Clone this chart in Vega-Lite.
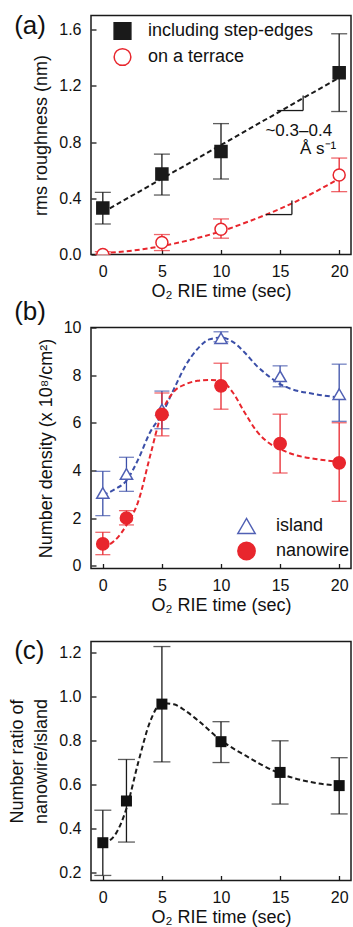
{
  "$schema": "https://vega.github.io/schema/vega-lite/v6.json",
  "padding": {"left": 8, "top": 12.5, "right": 0, "bottom": 0},
  "spacing": 73,
  "bounds": "flush",
  "config": {
    "font": "Liberation Sans",
    "view": {"stroke": "#1a1a1a", "strokeWidth": 1.5},
    "axis": {"grid": false, "domain": false, "tickSize": -5, "tickColor": "#1a1a1a", "tickWidth": 1.3, "labelFontSize": 16, "labelColor": "#111111", "titleFontSize": 18, "titleFontWeight": "normal", "titleColor": "#111111", "labelFont": "Liberation Sans", "titleFont": "Liberation Sans"},
    "axisX": {"labelPadding": 14, "titlePadding": 3},
    "axisY": {"labelPadding": 15, "titlePadding": 8},
    "text": {"font": "Liberation Sans"}
  },
  "resolve": {
    "scale": {"x": "independent", "y": "independent", "shape": "independent", "fill": "independent", "stroke": "independent"},
    "legend": {"shape": "independent", "fill": "independent", "stroke": "independent"}
  },
  "datasets": {
    "a_pts": [
      {"series": "including step-edges", "t": 0, "v": 0.33, "lo": 0.217, "hi": 0.442},
      {"series": "including step-edges", "t": 5, "v": 0.572, "lo": 0.423, "hi": 0.714},
      {"series": "including step-edges", "t": 10, "v": 0.733, "lo": 0.537, "hi": 0.931},
      {"series": "including step-edges", "t": 20, "v": 1.293, "lo": 1.017, "hi": 1.57},
      {"series": "on a terrace", "t": 0, "v": 0.0, "lo": 0.0, "hi": 0.02},
      {"series": "on a terrace", "t": 5, "v": 0.085, "lo": 0.028, "hi": 0.142},
      {"series": "on a terrace", "t": 10, "v": 0.18, "lo": 0.116, "hi": 0.253},
      {"series": "on a terrace", "t": 20, "v": 0.565, "lo": 0.447, "hi": 0.686}
    ],
    "a_fit1": [{"t": 0, "v": 0.3}, {"t": 20, "v": 1.258}],
    "a_fit2": [
      {"t": 0, "v": 0.01}, {"t": 2.5, "v": 0.028}, {"t": 5, "v": 0.06}, {"t": 7.5, "v": 0.106},
      {"t": 10, "v": 0.165}, {"t": 12.5, "v": 0.24}, {"t": 15, "v": 0.325}, {"t": 17.5, "v": 0.425}, {"t": 20, "v": 0.54}
    ],
    "a_slopes": [
      {"t": 14.75, "t2": 16.95, "v": 1.024, "v2": 1.024},
      {"t": 16.95, "t2": 16.95, "v": 1.024, "v2": 1.131},
      {"t": 13.8, "t2": 16.0, "v": 0.284, "v2": 0.284},
      {"t": 16.0, "t2": 16.0, "v": 0.284, "v2": 0.384}
    ],
    "a_notes": [
      {"t": 19.4, "v": 0.88, "label": "~0.3–0.4"},
      {"t": 19.75, "v": 0.75, "label": "Å s⁻¹"}
    ],
    "a_tag": [{"t": -7.5, "v": 1.566, "label": "(a)"}],
    "b_tag": [{"t": -7.5, "v": 10.33, "label": "(b)"}],
    "c_tag": [{"t": -7.5, "v": 1.172, "label": "(c)"}],
    "b_pts": [
      {"series": "island", "t": 0, "v": 3.05, "lo": 2.1, "hi": 3.96},
      {"series": "island", "t": 2, "v": 3.85, "lo": 3.12, "hi": 4.55},
      {"series": "island", "t": 5, "v": 6.55, "lo": 5.75, "hi": 7.33},
      {"series": "island", "t": 10, "v": 9.55, "lo": 9.4, "hi": 9.82},
      {"series": "island", "t": 15, "v": 7.95, "lo": 7.51, "hi": 8.39},
      {"series": "island", "t": 20, "v": 7.2, "lo": 6.06, "hi": 8.46},
      {"series": "nanowire", "t": 0, "v": 0.91, "lo": 0.46, "hi": 1.4},
      {"series": "nanowire", "t": 2, "v": 2.0, "lo": 1.71, "hi": 2.31},
      {"series": "nanowire", "t": 5, "v": 6.35, "lo": 5.45, "hi": 7.25},
      {"series": "nanowire", "t": 10, "v": 7.55, "lo": 6.57, "hi": 8.5},
      {"series": "nanowire", "t": 15, "v": 5.12, "lo": 3.89, "hi": 6.36},
      {"series": "nanowire", "t": 20, "v": 4.32, "lo": 2.7, "hi": 6.0}
    ],
    "b_fit_isl": [
      {"t": 0, "v": 2.97}, {"t": 1, "v": 3.2}, {"t": 2, "v": 3.57}, {"t": 3, "v": 4.47}, {"t": 4, "v": 5.6},
      {"t": 5, "v": 6.36}, {"t": 6, "v": 7.4}, {"t": 7, "v": 8.4}, {"t": 8, "v": 9.09}, {"t": 9, "v": 9.5},
      {"t": 10, "v": 9.58}, {"t": 11, "v": 9.4}, {"t": 12, "v": 8.95}, {"t": 13, "v": 8.4}, {"t": 14, "v": 7.97},
      {"t": 15, "v": 7.62}, {"t": 16, "v": 7.41}, {"t": 18, "v": 7.2}, {"t": 20, "v": 7.06}
    ],
    "b_fit_nw": [
      {"t": 0, "v": 0.77}, {"t": 1, "v": 1.05}, {"t": 2, "v": 1.7}, {"t": 3, "v": 2.7}, {"t": 4, "v": 4.6},
      {"t": 5, "v": 6.43}, {"t": 6, "v": 7.3}, {"t": 7, "v": 7.62}, {"t": 8, "v": 7.76}, {"t": 9, "v": 7.8},
      {"t": 10, "v": 7.76}, {"t": 11, "v": 7.27}, {"t": 12, "v": 6.43}, {"t": 13, "v": 5.66}, {"t": 14, "v": 5.17},
      {"t": 15, "v": 4.9}, {"t": 16, "v": 4.69}, {"t": 18, "v": 4.48}, {"t": 20, "v": 4.36}
    ],
    "c_pts": [
      {"t": 0, "v": 0.334, "lo": 0.185, "hi": 0.482},
      {"t": 2, "v": 0.524, "lo": 0.337, "hi": 0.713},
      {"t": 5, "v": 0.965, "lo": 0.702, "hi": 1.227},
      {"t": 10, "v": 0.794, "lo": 0.699, "hi": 0.885},
      {"t": 15, "v": 0.654, "lo": 0.51, "hi": 0.798},
      {"t": 20, "v": 0.594, "lo": 0.465, "hi": 0.721}
    ],
    "c_fit": [
      {"t": 0, "v": 0.33}, {"t": 1, "v": 0.367}, {"t": 2, "v": 0.49}, {"t": 3, "v": 0.7}, {"t": 4, "v": 0.885},
      {"t": 5, "v": 0.969}, {"t": 6, "v": 0.964}, {"t": 7, "v": 0.934}, {"t": 8, "v": 0.893}, {"t": 10, "v": 0.8},
      {"t": 12, "v": 0.733}, {"t": 15, "v": 0.649}, {"t": 17.5, "v": 0.611}, {"t": 20, "v": 0.593}
    ]
  },
  "vconcat": [
    {
      "width": 260, "height": 239,
      "encoding": {"x": {"field": "t", "type": "quantitative", "scale": {"domain": [-1, 21]}, "axis": {"values": [0, 5, 10, 15, 20], "title": "O₂ RIE time (sec)"}}},
      "layer": [
        {"data": {"name": "a_fit1"}, "mark": {"type": "line", "color": "#1a1a1a", "strokeDash": [5, 3], "strokeWidth": 2},
         "encoding": {"y": {"field": "v", "type": "quantitative", "scale": {"domain": [0, 1.7]}, "axis": {"values": [0, 0.4, 0.8, 1.2, 1.6], "format": ".1f", "title": "rms roughness (nm)"}}}},
        {"data": {"name": "a_fit2"}, "mark": {"type": "line", "color": "#e8262d", "strokeDash": [5, 3], "strokeWidth": 2, "interpolate": "monotone"},
         "encoding": {"y": {"field": "v", "type": "quantitative", "scale": {"domain": [0, 1.7]}, "axis": {"values": [0, 0.4, 0.8, 1.2, 1.6], "format": ".1f", "title": "rms roughness (nm)"}}}},
        {"data": {"name": "a_slopes"}, "mark": {"type": "rule", "color": "#1a1a1a", "strokeWidth": 1.3},
         "encoding": {"x2": {"field": "t2"}, "y": {"field": "v", "type": "quantitative", "scale": {"domain": [0, 1.7]}, "axis": {"values": [0, 0.4, 0.8, 1.2, 1.6], "format": ".1f", "title": "rms roughness (nm)"}}, "y2": {"field": "v2"}}},
        {"data": {"name": "a_pts"}, "transform": [{"filter": "datum.series === 'including step-edges'"}],
         "mark": {"type": "errorbar", "ticks": true, "size": 16, "thickness": 1.3, "color": "#1a1a1a"},
         "encoding": {"y": {"field": "lo", "type": "quantitative", "scale": {"domain": [0, 1.7]}, "axis": {"values": [0, 0.4, 0.8, 1.2, 1.6], "format": ".1f", "title": "rms roughness (nm)"}}, "y2": {"field": "hi"}}},
        {"data": {"name": "a_pts"}, "transform": [{"filter": "datum.series === 'on a terrace'"}],
         "mark": {"type": "errorbar", "ticks": true, "size": 16, "thickness": 1.3, "color": "#e8262d"},
         "encoding": {"y": {"field": "lo", "type": "quantitative", "scale": {"domain": [0, 1.7]}, "axis": {"values": [0, 0.4, 0.8, 1.2, 1.6], "format": ".1f", "title": "rms roughness (nm)"}}, "y2": {"field": "hi"}}},
        {"data": {"name": "a_pts"}, "mark": {"type": "point", "opacity": 1, "strokeWidth": 1.5, "size": 144, "clip": true},
         "encoding": {
           "y": {"field": "v", "type": "quantitative", "scale": {"domain": [0, 1.7]}, "axis": {"values": [0, 0.4, 0.8, 1.2, 1.6], "format": ".1f", "title": "rms roughness (nm)"}},
           "shape": {"field": "series", "type": "nominal", "scale": {"domain": ["including step-edges", "on a terrace"], "range": ["square", "circle"]},
                     "legend": {"title": null, "orient": "none", "legendX": 22, "legendY": 6, "symbolSize": 280, "symbolStrokeWidth": 1.5, "labelFontSize": 18, "labelOffset": 16, "labelLimit": 400, "rowPadding": 3, "padding": 0, "labelColor": "#111111", "labelFont": "Liberation Sans"}},
           "fill": {"field": "series", "type": "nominal", "scale": {"domain": ["including step-edges", "on a terrace"], "range": ["#1a1a1a", "#ffffff"]},
                     "legend": {"title": null, "orient": "none", "legendX": 22, "legendY": 6, "symbolSize": 280, "symbolStrokeWidth": 1.5, "labelFontSize": 18, "labelOffset": 16, "labelLimit": 400, "rowPadding": 3, "padding": 0, "labelColor": "#111111", "labelFont": "Liberation Sans"}},
           "stroke": {"field": "series", "type": "nominal", "scale": {"domain": ["including step-edges", "on a terrace"], "range": ["#1a1a1a", "#e8262d"]},
                     "legend": {"title": null, "orient": "none", "legendX": 22, "legendY": 6, "symbolSize": 280, "symbolStrokeWidth": 1.5, "labelFontSize": 18, "labelOffset": 16, "labelLimit": 400, "rowPadding": 3, "padding": 0, "labelColor": "#111111", "labelFont": "Liberation Sans"}}
         }},
        {"data": {"name": "a_notes"}, "mark": {"type": "text", "align": "right", "baseline": "middle", "fontSize": 17, "color": "#111111"},
         "encoding": {"y": {"field": "v", "type": "quantitative", "scale": {"domain": [0, 1.7]}, "axis": {"values": [0, 0.4, 0.8, 1.2, 1.6], "format": ".1f", "title": "rms roughness (nm)"}}, "text": {"field": "label"}}},
        {"data": {"name": "a_tag"}, "mark": {"type": "text", "align": "left", "baseline": "alphabetic", "fontSize": 26, "color": "#111111"},
         "encoding": {"y": {"field": "v", "type": "quantitative", "scale": {"domain": [0, 1.7]}, "axis": {"values": [0, 0.4, 0.8, 1.2, 1.6], "format": ".1f", "title": "rms roughness (nm)"}}, "text": {"field": "label"}}}
      ]
    },
    {
      "width": 260, "height": 241,
      "encoding": {"x": {"field": "t", "type": "quantitative", "scale": {"domain": [-1, 21]}, "axis": {"values": [0, 5, 10, 15, 20], "title": "O₂ RIE time (sec)"}}},
      "layer": [
        {"data": {"name": "b_fit_isl"}, "mark": {"type": "line", "color": "#3b4fa8", "strokeDash": [5, 3], "strokeWidth": 2, "interpolate": "monotone"},
         "encoding": {"y": {"field": "v", "type": "quantitative", "scale": {"domain": [-0.12, 10]}, "axis": {"values": [0, 2, 4, 6, 8, 10], "title": "Number density (x 10⁸/cm²)"}}}},
        {"data": {"name": "b_fit_nw"}, "mark": {"type": "line", "color": "#e8262d", "strokeDash": [5, 3], "strokeWidth": 2, "interpolate": "monotone"},
         "encoding": {"y": {"field": "v", "type": "quantitative", "scale": {"domain": [-0.12, 10]}, "axis": {"values": [0, 2, 4, 6, 8, 10], "title": "Number density (x 10⁸/cm²)"}}}},
        {"data": {"name": "b_pts"}, "transform": [{"filter": "datum.series === 'island'"}],
         "mark": {"type": "errorbar", "ticks": true, "size": 15, "thickness": 1.3, "color": "#3b4fa8"},
         "encoding": {"y": {"field": "lo", "type": "quantitative", "scale": {"domain": [-0.12, 10]}, "axis": {"values": [0, 2, 4, 6, 8, 10], "title": "Number density (x 10⁸/cm²)"}}, "y2": {"field": "hi"}}},
        {"data": {"name": "b_pts"}, "transform": [{"filter": "datum.series === 'nanowire'"}],
         "mark": {"type": "errorbar", "ticks": true, "size": 15, "thickness": 1.3, "color": "#e8262d"},
         "encoding": {"y": {"field": "lo", "type": "quantitative", "scale": {"domain": [-0.12, 10]}, "axis": {"values": [0, 2, 4, 6, 8, 10], "title": "Number density (x 10⁸/cm²)"}}, "y2": {"field": "hi"}}},
        {"data": {"name": "b_pts"}, "mark": {"type": "point", "opacity": 1, "strokeWidth": 1.5, "size": 150},
         "encoding": {
           "y": {"field": "v", "type": "quantitative", "scale": {"domain": [-0.12, 10]}, "axis": {"values": [0, 2, 4, 6, 8, 10], "title": "Number density (x 10⁸/cm²)"}},
           "shape": {"field": "series", "type": "nominal", "scale": {"domain": ["island", "nanowire"], "range": ["triangle-up", "circle"]},
                     "legend": {"title": null, "orient": "none", "legendX": 146, "legendY": 189, "symbolSize": 300, "symbolStrokeWidth": 1.5, "labelFontSize": 18, "labelOffset": 20, "labelLimit": 400, "rowPadding": 2, "padding": 0, "labelColor": "#111111", "labelFont": "Liberation Sans"}},
           "fill": {"field": "series", "type": "nominal", "scale": {"domain": ["island", "nanowire"], "range": ["#ffffff", "#e8262d"]},
                     "legend": {"title": null, "orient": "none", "legendX": 146, "legendY": 189, "symbolSize": 300, "symbolStrokeWidth": 1.5, "labelFontSize": 18, "labelOffset": 20, "labelLimit": 400, "rowPadding": 2, "padding": 0, "labelColor": "#111111", "labelFont": "Liberation Sans"}},
           "stroke": {"field": "series", "type": "nominal", "scale": {"domain": ["island", "nanowire"], "range": ["#5060b4", "#e8262d"]},
                     "legend": {"title": null, "orient": "none", "legendX": 146, "legendY": 189, "symbolSize": 300, "symbolStrokeWidth": 1.5, "labelFontSize": 18, "labelOffset": 20, "labelLimit": 400, "rowPadding": 2, "padding": 0, "labelColor": "#111111", "labelFont": "Liberation Sans"}}
         }},
        {"data": {"name": "b_tag"}, "mark": {"type": "text", "align": "left", "baseline": "alphabetic", "fontSize": 26, "color": "#111111"},
         "encoding": {"y": {"field": "v", "type": "quantitative", "scale": {"domain": [-0.12, 10]}, "axis": {"values": [0, 2, 4, 6, 8, 10], "title": "Number density (x 10⁸/cm²)"}}, "text": {"field": "label"}}}
      ]
    },
    {
      "width": 260, "height": 239,
      "encoding": {"x": {"field": "t", "type": "quantitative", "scale": {"domain": [-1, 21]}, "axis": {"values": [0, 5, 10, 15, 20], "title": "O₂ RIE time (sec)"}}},
      "layer": [
        {"data": {"name": "c_fit"}, "mark": {"type": "line", "color": "#1a1a1a", "strokeDash": [5, 3], "strokeWidth": 2, "interpolate": "monotone"},
         "encoding": {"y": {"field": "v", "type": "quantitative", "scale": {"domain": [0.162, 1.25]}, "axis": {"values": [0.2, 0.4, 0.6, 0.8, 1.0, 1.2], "format": ".1f", "title": ["Number ratio of", "nanowire/island"], "titleLineHeight": 24}}}},
        {"data": {"name": "c_pts"},
         "mark": {"type": "errorbar", "ticks": true, "size": 17, "thickness": 1.3, "color": "#1a1a1a"},
         "encoding": {"y": {"field": "lo", "type": "quantitative", "scale": {"domain": [0.162, 1.25]}, "axis": {"values": [0.2, 0.4, 0.6, 0.8, 1.0, 1.2], "format": ".1f", "title": ["Number ratio of", "nanowire/island"], "titleLineHeight": 24}}, "y2": {"field": "hi"}}},
        {"data": {"name": "c_pts"}, "mark": {"type": "square", "opacity": 1, "size": 121, "color": "#111111"},
         "encoding": {"y": {"field": "v", "type": "quantitative", "scale": {"domain": [0.162, 1.25]}, "axis": {"values": [0.2, 0.4, 0.6, 0.8, 1.0, 1.2], "format": ".1f", "title": ["Number ratio of", "nanowire/island"], "titleLineHeight": 24}}}},
        {"data": {"name": "c_tag"}, "mark": {"type": "text", "align": "left", "baseline": "alphabetic", "fontSize": 26, "color": "#111111"},
         "encoding": {"y": {"field": "v", "type": "quantitative", "scale": {"domain": [0.162, 1.25]}, "axis": {"values": [0.2, 0.4, 0.6, 0.8, 1.0, 1.2], "format": ".1f", "title": ["Number ratio of", "nanowire/island"], "titleLineHeight": 24}}, "text": {"field": "label"}}}
      ]
    }
  ]
}
